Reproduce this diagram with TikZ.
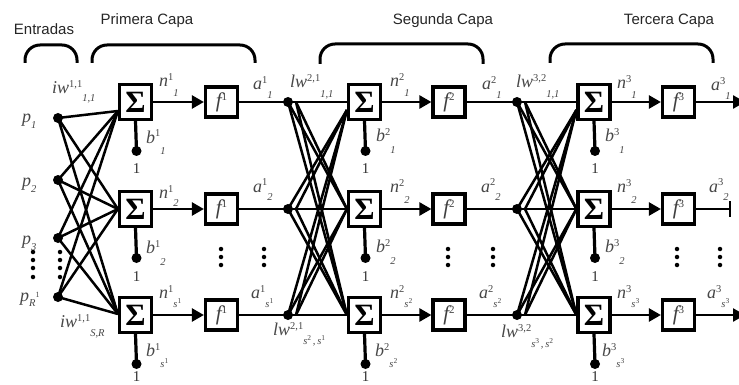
\documentclass[tikz,border=0pt]{standalone}
\usepackage{fontspec}
\setmainfont{Liberation Serif}
\newfontfamily\titlefont{Liberation Sans}
\usetikzlibrary{arrows.meta,calc}

% small index font, label with raised and lowered index, s with a raised index
\newcommand\idxsz{\fontsize{10.5}{10.5}\selectfont}
\newcommand\lab[4][9pt]{\textit{#2}\raisebox{6pt}{\idxsz #3}\raisebox{-#1}{\idxsz\itshape #4}}
\newcommand\sx[1]{s\raisebox{4pt}{\fontsize{7.5}{7.5}\selectfont\upshape #1}}

\begin{document}
\begin{tikzpicture}[x=1pt,y=-1pt,
  sumbox/.style={draw,line width=3.2pt,minimum width=32pt,minimum height=35pt,inner sep=0pt,
    font=\fontsize{31}{31}\selectfont\bfseries},
  fnbox/.style={draw,line width=3.2pt,minimum width=32pt,minimum height=30pt,inner sep=0pt,
    font=\fontsize{21}{21}\selectfont\itshape,text=black!75},
  wire/.style={line width=2.5pt},
  cross/.style={line width=2.5pt},
  arr/.style={wire,-{Triangle[length=12pt,width=13pt]}},
  hub/.style={circle,fill,inner sep=0pt,minimum size=10pt},
  vdot/.style={circle,fill,inner sep=0pt,minimum size=4.5pt},
  lbl/.style={inner sep=0pt,anchor=base west,font=\fontsize{18}{18}\selectfont,text=black!72},
  one/.style={inner sep=0pt,font=\fontsize{15}{15}\selectfont,text=black!80},
  brace/.style={line width=3pt,rounded corners=15pt},
  title/.style={inner sep=0pt,font=\titlefont\fontsize{15}{15}\selectfont,text=black!85},
]
\useasboundingbox (0,0) rectangle (739,385);
\fill[white] (0,0) rectangle (739,385);

% titles and braces
\node[title] (tin) at (44,29) {Entradas};
\node[title] (t1) at (147,21) {Primera Capa};
\node[title] (t2) at (443,21) {Segunda Capa};
\node[title] (t3) at (669,21) {Tercera Capa};
\draw[brace] (25,63) -- (25,45) -- (77,45) -- (77,63);
\draw[brace] (92,63) -- (92,45) -- (255,45) -- (255,63);
\draw[brace] (320,64) -- (320,44) -- (483,44) -- (483,64);
\draw[brace] (550,63) -- (550,44) -- (713,44) -- (713,63);

% neurons of the three layers: sum, transfer function and bias
\foreach \L/\xs/\xf in {1/135.5/221.5, 2/364.5/449, 3/594/678.5} {
  \foreach \r/\y/\u in {1/102/67, 2/209/68, 3/315/62} {
    \node[sumbox] (S\L\r) at (\xs,\y) {Σ};
    \node[fnbox] (F\L\r) at (\xf,\y) {f\raisebox{7pt}{\fontsize{11}{11}\selectfont\upshape\L}};
    \draw[arr] (S\L\r.east) -- (F\L\r.west);
    \node[hub] (B\L\r) at (\xs+1,\y+49) {};
    \draw[line width=3.2pt] (S\L\r.south) -- (B\L\r.center);
    \node[one] (U\L\r) at (\xs+1,\y+\u) {1};
  }
}

% inputs
\node[hub] (P1) at (58,118) {};
\node[hub] (P2) at (58,180) {};
\node[hub] (P3) at (58,238) {};
\node[hub] (P4) at (58,297) {};
\node[lbl] (lp1) at (22,123) {\lab[6pt]{p}{}{1}};
\node[lbl] (lp2) at (22,186) {\lab[6pt]{p}{}{2}};
\node[lbl] (lp3) at (22,244) {\lab[6pt]{p}{}{3}};
\node[lbl] (lp4) at (20,301) {\textit{p}\raisebox{-5pt}{\idxsz\itshape R}\raisebox{4pt}{\fontsize{8}{8}\selectfont 1}};

% input weights
\coordinate (T11) at ($(S11.west)+(0,9)$);
\coordinate (T12) at (S12.west);
\coordinate (T13) at ($(S13.west)+(0,-1)$);
\foreach \i in {1,2,3,4} \foreach \j in {1,2,3} \draw[cross] (P\i.center) -- (T1\j);

% hidden units between rows 2 and 3
\foreach \x in {33,60} \foreach \y in {252,260,268,277} \node[vdot] (d\x-\y) at (\x,\y) {};
\foreach \x in {221,264,448,493,677,720} \foreach \y in {249,257,265} \node[vdot] (e\x-\y) at (\x,\y) {};

% layer connections
\foreach \L/\P/\xh in {2/1/288, 3/2/517} {
  \foreach \r/\y in {1/102, 2/209, 3/315} {
    \node[hub] (H\L\r) at (\xh,\y) {};
    \draw[wire] (F\P\r.east) -- (S\L\r.west);
  }
  \coordinate (T\L1) at ($(S\L1.west)+(0,8)$);
  \coordinate (T\L2) at (S\L2.west);
  \coordinate (T\L3) at (S\L3.west);
  \foreach \i/\j in {1/2,1/3,2/1,2/3,3/1,3/2} {
    \draw[cross] (H\L\i.center) -- (T\L\j);
    \draw[cross] ($(H\L\i.center)+(8,0)$) -- (T\L\j);
  }
}

% outputs
\draw[arr] (F31.east) -- (745,102);
\draw[wire,-{Bar[width=16pt]}] (F32.east) -- (731,209);
\draw[arr] (F33.east) -- (745,315);

% weight labels
\node[lbl] (w1a) at (52,94) {\lab[8pt]{iw}{1,1}{1,1}};
\node[lbl] (w1b) at (60,327) {\lab[9pt]{iw}{1,1}{S,R}};
\node[lbl] (w2a) at (290,88) {\lab[10pt]{lw}{2,1}{1,1}};
\node[lbl] (w2b) at (273,335) {\lab[9pt]{lw}{2,1}{\sx{2}\,,\,\sx{1}}};
\node[lbl] (w3a) at (516,88) {\lab[10pt]{lw}{3,2}{1,1}};
\node[lbl] (w3b) at (501,337) {\lab[10pt]{lw}{3,2}{\sx{3}\,,\,\sx{2}}};

% net input labels
\node[lbl] (n11) at (159,87) {\lab[10pt]{n}{1}{1}};
\node[lbl] (n12) at (159,198) {\lab[8pt]{n}{1}{2}};
\node[lbl] (n13) at (159,298) {\lab[9pt]{n}{1}{\sx{1}}};
\node[lbl] (n21) at (390,87) {\lab[10pt]{n}{2}{1}};
\node[lbl] (n22) at (390,193) {\lab[10pt]{n}{2}{2}};
\node[lbl] (n23) at (390,298) {\lab[9pt]{n}{2}{\sx{2}}};
\node[lbl] (n31) at (617,89) {\lab[10pt]{n}{3}{1}};
\node[lbl] (n32) at (617,193) {\lab[10pt]{n}{3}{2}};
\node[lbl] (n33) at (617,298) {\lab[9pt]{n}{3}{\sx{3}}};

% output labels
\node[lbl] (a11) at (253,90) {\lab[9pt]{a}{1}{1}};
\node[lbl] (a12) at (253,192) {\lab[9pt]{a}{1}{2}};
\node[lbl] (a13) at (251,298) {\lab[9pt]{a}{1}{\sx{1}}};
\node[lbl] (a21) at (482,90) {\lab[9pt]{a}{2}{1}};
\node[lbl] (a22) at (481,192) {\lab[9pt]{a}{2}{2}};
\node[lbl] (a23) at (479,298) {\lab[9pt]{a}{2}{\sx{2}}};
\node[lbl] (a31) at (711,91) {\lab[9pt]{a}{3}{1}};
\node[lbl] (a32) at (709,192) {\lab[9pt]{a}{3}{2}};
\node[lbl] (a33) at (707,298) {\lab[9pt]{a}{3}{\sx{3}}};

% bias labels
\node[lbl] (b11) at (146,143) {\lab[12pt]{b}{1}{1}};
\node[lbl] (b12) at (146,253) {\lab[12pt]{b}{1}{2}};
\node[lbl] (b13) at (146,356) {\lab[11pt]{b}{1}{\sx{1}}};
\node[lbl] (b21) at (376,142) {\lab[12pt]{b}{2}{1}};
\node[lbl] (b22) at (376,252) {\lab[12pt]{b}{2}{2}};
\node[lbl] (b23) at (375,356) {\lab[11pt]{b}{2}{\sx{2}}};
\node[lbl] (b31) at (605,142) {\lab[12pt]{b}{3}{1}};
\node[lbl] (b32) at (605,252) {\lab[12pt]{b}{3}{2}};
\node[lbl] (b33) at (602,356) {\lab[11pt]{b}{3}{\sx{3}}};
\end{tikzpicture}
\end{document}
